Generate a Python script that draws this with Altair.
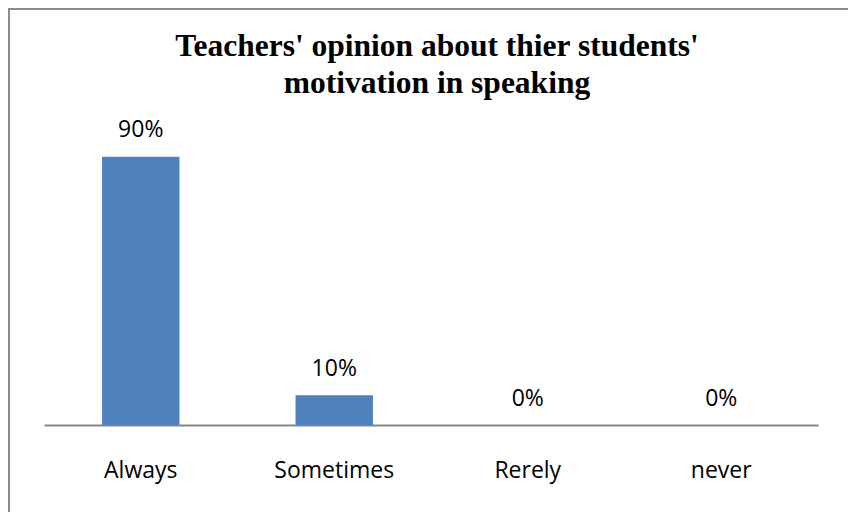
import altair as alt
import pandas as pd

categories = ["Always", "Sometimes", "Rerely", "never"]
values = [0.90, 0.10, 0.0, 0.0]
title_lines = ["Teachers' opinion about thier students'", "motivation in speaking"]

df = pd.DataFrame({"category": categories, "value": values})
one = alt.Data(values=[{"a": 1}])

x = alt.X(
    "category:N",
    sort=categories,
    title=None,
    scale=alt.Scale(paddingInner=0.6, paddingOuter=0.3),
    axis=alt.Axis(
        labelAngle=0,
        labelFont="Open Sans",
        labelFontSize=23,
        labelColor="#000000",
        ticks=False,
        tickSize=0,
        domainColor="#868686",
        domainWidth=2,
        labelPadding=52,
        labelBaseline="alphabetic",
        grid=False,
    ),
)
y = alt.Y("value:Q", scale=alt.Scale(domain=[0, 1]), axis=None)

# outer chart frame: top and left edges only (plot origin is at page x=44, y=127)
frame_top = alt.Chart(one).mark_rule(color="#8c8c8c", strokeWidth=2).encode(
    x=alt.value(-36), x2=alt.value(900), y=alt.value(-118)
)
frame_left = alt.Chart(one).mark_rule(color="#8c8c8c", strokeWidth=2).encode(
    x=alt.value(-35), y=alt.value(-119), y2=alt.value(600)
)

title = alt.Chart(one).mark_text(
    text=title_lines,
    font="Liberation Serif",
    fontSize=31.5,
    fontWeight="bold",
    color="#000000",
    lineHeight=36.6,
    align="center",
    baseline="alphabetic",
).encode(x=alt.value(393), y=alt.value(-70.8))

bars = alt.Chart(df).mark_bar(color="#4F81BD").encode(x=x, y=y)

labels = alt.Chart(df).mark_text(
    font="Open Sans", fontSize=23, color="#000000", baseline="alphabetic", dy=-19.5
).encode(x=x, y=y, text=alt.Text("value:Q", format=".0%"))

chart = (
    alt.layer(frame_top, frame_left, title, bars, labels)
    .properties(
        width=774,
        height=298,
        autosize=alt.AutoSizeParams(type="none"),
        padding={"left": 36, "top": 119, "right": 30, "bottom": 87},
        background="white",
    )
    .configure_view(strokeOpacity=0)
)

chart.save("out.html", embed_options={"renderer": "svg", "actions": False})
